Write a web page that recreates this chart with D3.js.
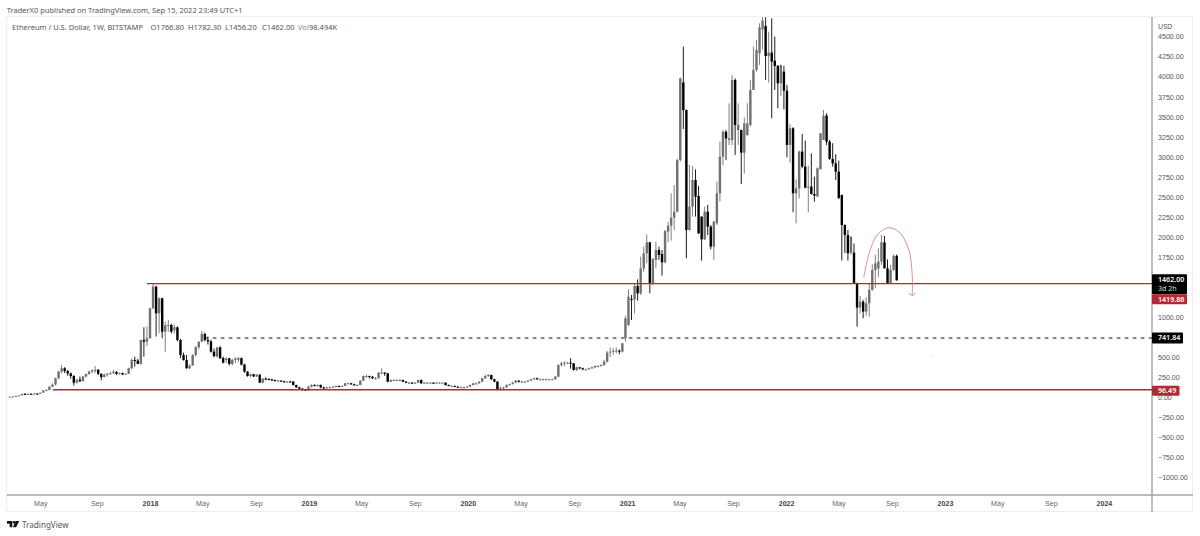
<!DOCTYPE html>
<html>
<head>
<meta charset="utf-8">
<script src="https://cdn.jsdelivr.net/npm/d3@7"></script>
<style>
  html, body { margin: 0; padding: 0; background: #fff; }
  svg { display: block; font-family: "Noto Sans", sans-serif; }
  .domain { display: none; }
  .tick line { display: none; }
</style>
</head>
<body>
<svg id="chart" width="1200" height="536"></svg>
<script>
// weekly candles as [open, high, low, close]
const candles2017 = [
  [11,12,10,11],[11,14,11,13],[13,20,13,19],[19,29,18,28],[28,50,27,44],[44,55,36,42],
  [42,52,40,46],[46,52,42,44],[44,52,42,48],[48,54,44,47],[47,62,45,60],[60,92,58,86],
  [86,100,78,94],[94,142,90,135],[135,178,130,162],[162,248,150,240],[240,335,228,322],
  [322,405,300,364],[364,378,305,330],[330,342,270,300],[300,312,235,268],[268,280,150,185],
  [185,232,176,222],[222,262,190,204],[204,270,198,262],[262,298,250,293],[293,335,285,322],
  [322,350,300,340],[340,395,305,345],[345,355,280,295],[295,300,215,255],[255,300,250,285],
  [285,305,262,296],[296,322,290,302],[302,345,296,320],[320,328,280,296],[296,310,288,304],
  [304,312,280,288],[288,300,284,296],[296,372,292,364],[364,490,350,468],[468,510,385,460],
  [460,480,415,420],[420,720,410,717],[717,875,510,696],[696,885,640,738]
];
const candles2018 = [
  [738,1120,735,1112],[1112,1420,1100,1382],[1382,1395,760,1050],[1050,1250,800,1237],
  [1237,1245,738,821],[821,946,572,900],[900,966,820,904],[904,920,800,821],[842,910,800,875],
  [875,885,700,717],[717,730,490,530],[530,560,460,468],[468,530,360,364],[364,415,355,400],
  [400,540,395,530],[530,640,510,626],[626,700,600,696],[696,830,690,792],[792,810,700,717],
  [717,760,660,700],[700,720,560,572],[572,610,500,518],[510,630,500,625],[625,640,480,490],
  [490,510,425,435],[468,500,430,488],[488,495,400,418],[418,480,400,470],[470,500,430,488],
  [470,505,445,490],[490,500,400,410],[410,420,310,322],[322,330,260,268],[268,300,250,290],
  [290,295,255,262],[262,290,255,285],[285,290,180,185],[185,240,175,235],[235,250,215,232],
  [232,240,215,225],[225,235,205,218],[218,225,200,205],[205,220,195,210],[210,215,195,200],
  [200,212,190,195],[195,205,185,200],[200,208,190,198],[198,205,150,155],[155,160,120,127],
  [127,135,100,110],[110,120,85,100],[100,108,82,90]
];
const candles2019 = [
  [90,145,88,135],[135,165,125,155],[155,165,140,148],[148,162,135,158],[158,160,115,125],
  [125,135,100,118],[118,135,112,127],[127,138,118,127],[127,142,122,135],[135,150,128,144],
  [144,148,128,135],[135,150,130,144],[144,182,140,177],[177,185,165,177],[177,182,158,165],
  [165,172,148,156],[156,165,150,156],[156,215,152,210],[210,275,205,268],[268,285,245,268],
  [268,272,235,260],[260,265,230,240],[240,255,225,240],[240,318,235,310],[310,364,290,310],
  [310,318,270,302],[302,305,190,198],[198,225,190,218],[218,228,205,218],[218,225,205,218],
  [218,230,208,218],[218,222,190,198],[198,205,178,185],[185,195,175,185],[185,190,170,177],
  [177,190,172,185],[185,222,180,218],[218,225,172,177],[177,190,170,185],[185,192,178,185],
  [185,190,178,185],[185,190,172,177],[177,190,172,185],[185,192,178,185],[185,190,178,185],
  [185,188,150,156],[156,160,140,144],[144,150,138,144],[144,148,130,135],[135,140,122,127],
  [127,135,120,127],[127,135,118,127]
];
const candles2020 = [
  [127,142,124,135],[135,160,130,156],[156,182,150,177],[177,185,160,177],[177,202,170,198],
  [198,248,192,240],[240,285,232,268],[268,292,255,281],[281,285,220,227],[227,235,190,198],
  [198,205,90,102],[102,140,90,115],[115,135,108,127],[127,165,122,156],[156,172,148,168],
  [168,195,160,185],[185,218,178,210],[210,215,185,198],[198,210,190,198],[198,205,188,198],
  [198,218,192,210],[210,235,205,227],[227,248,220,240],[240,248,222,227],[227,238,220,227],
  [227,235,218,227],[227,238,220,227],[227,232,218,227],[227,235,220,227],[227,268,222,260],
  [260,412,255,405],[405,445,385,426],[426,450,390,435],[435,445,420,435],[435,490,360,426],
  [426,430,335,343],[343,385,330,376],[376,380,350,364],[364,372,340,351],[351,362,342,351],
  [351,372,345,364],[364,385,355,376],[376,400,365,393],[393,402,375,393],[393,412,385,405],
  [405,470,395,447],[447,580,435,560],[560,625,505,572],[572,615,530,584],[584,625,550,584],
  [584,600,540,572],[572,680,560,676]
];
const candles2021 = [
  [738,1016,696,987],[904,1349,892,1257],[1230,1278,966,1215],[1224,1423,1049,1390],
  [1390,1473,1207,1299],[1299,1756,1278,1610],[1610,1881,1569,1797],[1797,2034,1673,1935],
  [1935,1940,1299,1415],[1415,1740,1400,1727],[1715,1943,1611,1839],[1839,1881,1715,1777],
  [1789,1839,1519,1685],[1685,2090,1673,2076],[2068,2192,1935,2142],[2142,2545,1955,2242],
  [2242,2649,2088,2317],[2317,2980,2310,2961],[2961,3990,2940,3979],[3929,4374,3348,3585],
  [3585,3590,1735,2088],[2088,2899,2080,2379],[2379,2886,2255,2712],[2712,2845,2255,2504],
  [2512,2637,2039,2047],[2255,2258,1706,1972],[1972,2379,1963,2317],[2317,2400,2026,2130],
  [2130,2150,1847,1881],[1881,2205,1714,2192],[2172,2691,2150,2546],[2546,3190,2442,3003],
  [3003,3335,2899,3314],[3314,3335,2961,3231],[3210,3668,3148,3231],[3210,4021,3148,3958],
  [3958,3979,3024,3398],[3335,3668,3148,3398],[3335,3340,2662,3053],[3053,3493,2795,3418],
  [3270,3668,3270,3418],[3398,3958,3377,3834],[3834,4375,3835,4084],[4084,4458,4063,4333],
  [4292,4666,4146,4616],[4590,4800,4340,4700],[4632,4740,3959,4258],[4258,4562,3926,4300],
  [4300,4728,3481,4188],[4200,4500,3835,4134],[4134,4146,3606,3918],[3918,4150,3760,4146],
  [4063,4134,3593,3826]
];
const candles2022 = [
  [3826,3897,2995,3149],[3149,3411,2928,3357],[3357,3370,2309,2546],[2546,2721,2172,2608],
  [2608,3080,2484,3066],[3066,3286,2858,2879],[2879,3203,2608,2617],[2617,2887,2309,2630],
  [2630,3045,2530,2538],[2538,2754,2442,2517],[2505,2870,2505,2858],[2845,3300,2845,3294],
  [3211,3585,3211,3515],[3515,3544,3149,3190],[3190,3211,2962,2974],[2974,3170,2879,2920],
  [2920,3032,2712,2816],[2816,2953,2484,2484],[2525,2530,1707,2151],[2151,2160,1800,2027],
  [2027,2090,1707,1798],[1806,2006,1780,2006],[1806,1920,1415,1424],[1424,1432,884,1121],
  [1121,1266,1050,1195],[1195,1216,988,1071],[1071,1250,1017,1175],[1175,1424,1008,1341],
  [1341,1661,1332,1590],[1590,1777,1362,1673],[1611,1860,1500,1694],[1694,2027,1653,1935],
  [1935,2014,1611,1611],[1611,1723,1416,1424],[1424,1653,1416,1590],[1590,1786,1582,1765],
  [1766.8,1782.3,1456.2,1462]
];
const lastBarDate = new Date(Date.UTC(2022, 8, 12));

// 1250 and 750 sit behind the price tags in the picture, so they are left out
const priceTicks = [4500,4250,4000,3750,3500,3250,3000,2750,2500,2250,2000,1750,1500,1000,500,250,0,-250,-500,-750,-1000];
const timeTickDates = ["2017-04-24","2017-09-01","2018-01-01","2018-05-01","2018-09-01","2019-01-01","2019-05-01","2019-09-01","2020-01-01","2020-05-01","2020-09-01","2021-01-01","2021-05-01","2021-09-01","2022-01-01","2022-05-01","2022-09-01","2023-01-01","2023-05-01","2023-09-01","2024-01-01"];
const timeTickLabels = ["May","Sep","2018","May","Sep","2019","May","Sep","2020","May","Sep","2021","May","Sep","2022","May","Sep","2023","May","Sep","2024"];

const resistanceLevel = 1419.86;
const supportLevel = 96.49;
const midLevel = 741.84;
const lastClose = 1462;
// where the level lines start
const resistanceStart = "2017-12-25";
const supportStart = "2017-05-23";
const midStart = "2018-05-07";
// the hand drawn arc: weeks relative to the last bar, and price
const arcWeeks = [-10.8,-9,-6.4,-2.8,0.8,4,5.1,5.1];
const arcPrices = [1494,1802,2026,2117,2064,1839,1527,1269];
// stray dot right of the arc
const dotWeeks = 11.3, dotPrice = 517;

const titleParts = ["Ethereum / U.S. Dollar, 1W, BITSTAMP","O1766.80","H1782.30","L1456.20","C1462.00","Vol","98.494K"];
const titleX = [12,150.5,188,225,262,298,309];

const plot = { left: 7, right: 1152, top: 17, bottom: 495, frameBottom: 512, frameRight: 1193 };
const upColor = "#707070", downColor = "#000", levelRed = "#b22833";
const axisFont = "7.1px";

const svg = d3.select("#chart");

const y = d3.scaleLinear().domain([4500, -1000]).range([36.6, 477.7]);
const x = d3.scaleUtc()
  .domain([new Date(Date.UTC(2018, 0, 1)), new Date(Date.UTC(2023, 0, 1))])
  .range([150, 945]);

const candles = [].concat(candles2017, candles2018, candles2019, candles2020, candles2021, candles2022);
const weekMs = 7 * 24 * 3600 * 1000;
const bars = candles.map((c, i) => ({
  date: new Date(lastBarDate.getTime() - (candles.length - 1 - i) * weekMs),
  open: c[0], high: c[1], low: c[2], close: c[3]
}));

// frame
svg.append("rect").attr("x", plot.left - 0.5).attr("y", plot.top - 0.5)
  .attr("width", plot.frameRight - plot.left).attr("height", plot.frameBottom - plot.top)
  .attr("fill", "#fff").attr("stroke", "#eeeeee");
svg.append("line").attr("x1", plot.right).attr("x2", plot.right).attr("y1", plot.top).attr("y2", plot.frameBottom)
  .attr("stroke", "#a3a3a3").attr("stroke-width", 1.4);
svg.append("line").attr("x1", plot.left).attr("x2", plot.frameRight).attr("y1", plot.bottom).attr("y2", plot.bottom)
  .attr("stroke", "#a3a3a3").attr("stroke-width", 1.4);

svg.append("clipPath").attr("id", "plotClip").append("rect")
  .attr("x", plot.left).attr("y", plot.top)
  .attr("width", plot.right - plot.left).attr("height", plot.bottom - plot.top);
const g = svg.append("g").attr("clip-path", "url(#plotClip)");

// candles
const candleG = g.selectAll("g.candle").data(bars).join("g").attr("class", "candle");
candleG.append("line")
  .attr("x1", d => x(d.date)).attr("x2", d => x(d.date))
  .attr("y1", d => y(d.high)).attr("y2", d => y(d.low))
  .attr("stroke", d => d.close >= d.open ? upColor : downColor)
  .attr("stroke-width", 0.9);
candleG.append("rect")
  .attr("x", d => x(d.date) - 1.2).attr("width", 2.4)
  .attr("y", d => y(Math.max(d.open, d.close)))
  .attr("height", d => Math.max(1, Math.abs(y(d.open) - y(d.close))))
  .attr("fill", d => d.close >= d.open ? upColor : downColor);

// level lines
const levelLine = (start, price, color, w, dash) => g.append("line")
  .attr("x1", x(new Date(start))).attr("x2", plot.right)
  .attr("y1", y(price)).attr("y2", y(price))
  .attr("stroke", color).attr("stroke-width", w)
  .attr("stroke-dasharray", dash);
levelLine(resistanceStart, resistanceLevel, levelRed, 1.4, null);
levelLine(supportStart, supportLevel, levelRed, 1.4, null);
levelLine(midStart, midLevel, "#111", 1, "3.5 4.5");

// hand drawn arc with arrow head
const weeksToDate = w => new Date(lastBarDate.getTime() + w * weekMs);
const arcPoints = arcWeeks.map((w, i) => [x(weeksToDate(w)), y(arcPrices[i])]);
const arcLine = d3.line().curve(d3.curveCatmullRom.alpha(0.5));
g.append("path").attr("d", arcLine(arcPoints))
  .attr("fill", "none").attr("stroke", "#d8737b").attr("stroke-width", 0.8);
const tip = arcPoints[arcPoints.length - 1];
g.append("path").attr("d", d3.line()([[tip[0] - 3.3, tip[1] - 2.5], tip, [tip[0] + 3.3, tip[1] - 2.5]]))
  .attr("fill", "none").attr("stroke", "#d8737b").attr("stroke-width", 0.8);
g.append("circle").attr("cx", x(weeksToDate(dotWeeks))).attr("cy", y(dotPrice)).attr("r", 0.5).attr("fill", "#aaa");

// price axis
const yAxis = d3.axisRight(y).tickValues(priceTicks).tickSize(0).tickPadding(0)
  .tickFormat(d3.format(".2f"));
svg.append("g").attr("transform", `translate(${plot.right + 6},0)`).call(yAxis)
  .call(a => a.selectAll("text").attr("fill", "#555").style("font-size", axisFont));
svg.append("text").attr("x", plot.right + 6).attr("y", 28.5).attr("fill", "#555").style("font-size", axisFont).text("USD");

// time axis
const isYear = (d, i) => /^\d/.test(timeTickLabels[i]);
const xAxis = d3.axisBottom(x)
  .tickValues(timeTickDates.map(d => new Date(d)))
  .tickSize(0).tickPadding(5.5)
  .tickFormat((d, i) => timeTickLabels[i]);
svg.append("g").attr("transform", `translate(0,${plot.bottom})`).call(xAxis)
  .call(a => a.selectAll("text")
    .attr("fill", (d, i) => isYear(d, i) ? "#444" : "#666")
    .style("font-size", axisFont)
    .style("font-weight", (d, i) => isYear(d, i) ? 600 : 400));

// price labels on the axis
function priceTag(price, fill, w, h, top, sub) {
  const tag = svg.append("g");
  tag.append("rect").attr("x", plot.right).attr("y", top).attr("width", w).attr("height", h).attr("rx", 1).attr("fill", fill);
  tag.append("text").attr("x", plot.right + 6).attr("y", top + 7.6).attr("fill", "#fff")
    .style("font-size", axisFont).style("font-weight", 600).text(d3.format(".2f")(price));
  if (sub) tag.append("text").attr("x", plot.right + 6).attr("y", top + 16.5).attr("fill", "#ddd")
    .style("font-size", axisFont).text(sub);
}
priceTag(lastClose, "#000", 35, 20, y(lastClose) - 6, "3d 2h");
priceTag(resistanceLevel, levelRed, 35, 10, y(lastClose) + 14);
priceTag(midLevel, "#000", 31, 11, y(midLevel) - 5.5);
priceTag(supportLevel, levelRed, 27.5, 10, y(supportLevel) - 4);

// header texts
svg.append("text").attr("x", 6.7).attr("y", 12.6).attr("fill", "#555").style("font-size", "7.5px")
  .text("TraderX0 published on TradingView.com, Sep 15, 2022 23:49 UTC+1");
svg.selectAll("text.titlePart").data(titleParts).join("text").attr("class", "titlePart")
  .attr("x", (d, i) => titleX[i]).attr("y", 30)
  .attr("fill", d => d === "Vol" ? "#888" : "#555")
  .style("font-size", "7.5px")
  .text(d => d);

// TradingView mark
const logo = svg.append("g").attr("transform", "translate(7,521) scale(0.95,0.9)").attr("fill", "#131722");
logo.append("path").attr("d", "M0 0H5.6V7H2.8V3H0Z");
logo.append("circle").attr("cx", 7.3).attr("cy", 1.4).attr("r", 1.4);
logo.append("path").attr("d", "M9 0H13L9.6 7H6.2Z");
svg.append("text").attr("x", 22).attr("y", 527.8).attr("fill", "#555").style("font-size", "8.1px").text("TradingView");
</script>
</body>
</html>
